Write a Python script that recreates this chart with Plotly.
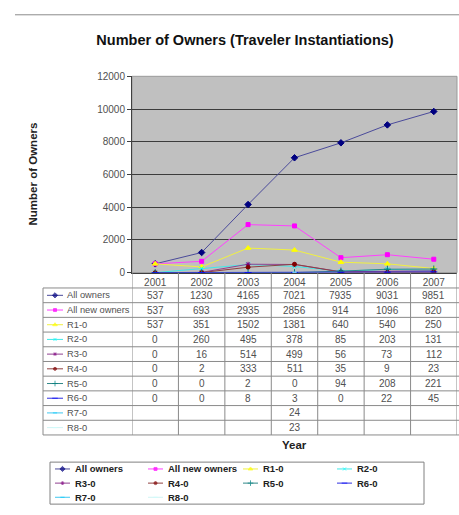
import plotly.graph_objects as go

W, H = 459, 515

years = ["2001", "2002", "2003", "2004", "2005", "2006", "2007"]
series_names = ["All owners", "All new owners", "R1-0", "R2-0", "R3-0",
                "R4-0", "R5-0", "R6-0", "R7-0", "R8-0"]
all_owners = [537, 1230, 4165, 7021, 7935, 9031, 9851]
all_new_owners = [537, 693, 2935, 2856, 914, 1096, 820]
r1 = [537, 351, 1502, 1381, 640, 540, 250]
r2 = [0, 260, 495, 378, 85, 203, 131]
r3 = [0, 16, 514, 499, 56, 73, 112]
r4 = [0, 2, 333, 511, 35, 9, 23]
r5 = [0, 0, 2, 0, 94, 208, 221]
r6 = [0, 0, 8, 3, 0, 22, 45]
r7 = [None, None, None, 24, None, None, None]
r8 = [None, None, None, 23, None, None, None]
values = [all_owners, all_new_owners, r1, r2, r3, r4, r5, r6, r7, r8]

colors = ["#000080", "#FF00FF", "#FFFF00", "#00FFFF", "#800080",
          "#800000", "#008080", "#0000FF", "#00CCFF", "#CCFFFF"]
line_colors = ["#4a4a9a", "#ff40ff", "#f0f040", "#40e8e8", "#904090",
               "#904040", "#308888", "#3030e0", "#40c8f0", "#d0f4f4"]
symbols = ["diamond", "square", "triangle-up", "x-thin", "asterisk",
           "circle", "cross-thin", "line-ew", "line-ew", "line-ew"]
msizes = [5, 4, 5, 4, 4, 4, 5, 5, 3, 3]

FONT = "Liberation Sans, Arial, sans-serif"

# plot area in pixels
PL, PR, PT, PB = 132, 457, 72, 273


def fx(x):
    return x / W


def fy(y):
    return 1 - y / H


fig = go.Figure()

for name, vals, c, lc, s, ms in zip(series_names, values, colors, line_colors, symbols, msizes):
    fig.add_trace(go.Scatter(
        x=years, y=vals, name=name, mode="lines+markers",
        line=dict(color=lc, width=1),
        marker=dict(color=c, symbol=s, size=ms,
                    line=dict(color=c, width=1)),
        showlegend=False, hoverinfo="x+y+name",
        xaxis="x", yaxis="y"))

# --- data table below the chart ---
ROW_TOP = 288.7
ROW_H = 15.05
TBL_L = 43
shapes = []
annotations = []
n_rows = len(series_names)
tbl_bottom = ROW_TOP + ROW_H * n_rows
grid_col = "#8a8a8a"

# plot area background and border
shapes.append(dict(type="rect", xref="paper", yref="paper",
                   x0=fx(PL), x1=fx(PR), y0=fy(PB), y1=fy(PT),
                   fillcolor="#C0C0C0",
                   line=dict(color="#9a9a9a", width=1), layer="below"))

# horizontal table lines
for k in range(n_rows + 1):
    y = ROW_TOP + ROW_H * k
    shapes.append(dict(type="line", xref="paper", yref="paper",
                       x0=fx(TBL_L), x1=fx(459), y0=fy(y), y1=fy(y),
                       line=dict(color=grid_col, width=1)))
# vertical lines at category boundaries
for k in range(len(years) + 1):
    shapes.append(dict(type="line", xref="x", yref="paper",
                       x0=k - 0.5, x1=k - 0.5, y0=fy(PB), y1=fy(tbl_bottom),
                       line=dict(color=grid_col, width=1)))
shapes.append(dict(type="line", xref="paper", yref="paper",
                   x0=fx(TBL_L), x1=fx(TBL_L), y0=fy(ROW_TOP), y1=fy(tbl_bottom),
                   line=dict(color=grid_col, width=1)))

for i, (name, vals, c, lc, s, ms) in enumerate(zip(series_names, values, colors, line_colors, symbols, msizes)):
    yc = ROW_TOP + ROW_H * (i + 0.5)
    annotations.append(dict(text=name, xref="paper", yref="paper",
                            x=fx(65), y=fy(yc), xanchor="left", yanchor="middle",
                            showarrow=False,
                            font=dict(family=FONT, size=9.3, color="#505050")))
    for j, v in enumerate(vals):
        if v is None:
            continue
        annotations.append(dict(text=str(v), xref="x", yref="paper",
                                x=j, y=fy(yc), xanchor="center", yanchor="middle",
                                showarrow=False,
                                font=dict(family=FONT, size=10, color="#505050")))
    # key in the table
    fig.add_trace(go.Scatter(
        x=[47, 55, 63], y=[yc, yc, yc], mode="lines+markers",
        line=dict(color=lc, width=1),
        marker=dict(color=c, symbol=s, size=[0, max(ms - 1, 3), 0],
                    line=dict(color=c, width=1)),
        showlegend=False, hoverinfo="skip", xaxis="x2", yaxis="y2"))

# --- manual legend box ---
LEG_L, LEG_R, LEG_T, LEG_B = 50, 424, 467, 510
shapes.append(dict(type="rect", xref="paper", yref="paper",
                   x0=fx(LEG_L), x1=fx(LEG_R), y0=fy(LEG_T), y1=fy(LEG_B),
                   line=dict(color="#808080", width=1)))
leg_cols = [55, 148, 243, 337]
leg_rows = [474, 488.5, 503]
for i, (name, c, lc, s, ms) in enumerate(zip(series_names, colors, line_colors, symbols, msizes)):
    cx = leg_cols[i % 4]
    cy = leg_rows[i // 4]
    fig.add_trace(go.Scatter(
        x=[cx, cx + 7.5, cx + 15], y=[cy, cy, cy], mode="lines+markers",
        line=dict(color=lc, width=1),
        marker=dict(color=c, symbol=s, size=[0, max(ms - 1, 3), 0],
                    line=dict(color=c, width=1)),
        showlegend=False, hoverinfo="skip", xaxis="x2", yaxis="y2"))
    annotations.append(dict(text="<b>" + name + "</b>", xref="paper", yref="paper",
                            x=fx(cx + 17.5), y=fy(cy), xanchor="left", yanchor="middle",
                            showarrow=False,
                            font=dict(family=FONT, size=9.5, color="#222222")))

# top separator line
shapes.append(dict(type="line", xref="paper", yref="paper",
                   x0=fx(15), x1=fx(459), y0=fy(9), y1=fy(9),
                   line=dict(color="#8c8c8c", width=1)))

# axis titles
annotations.append(dict(text="<b>Number of Owners</b>", xref="paper", yref="paper",
                        x=fx(33), y=fy((PT + PB) / 2), textangle=-90,
                        xanchor="center", yanchor="middle", showarrow=False,
                        font=dict(family=FONT, size=11.5, color="#222222")))
annotations.append(dict(text="<b>Year</b>", xref="paper", yref="paper",
                        x=fx((PL + PR) / 2), y=fy(449),
                        xanchor="center", yanchor="middle", showarrow=False,
                        font=dict(family=FONT, size=11.5, color="#222222")))

fig.update_layout(
    width=W, height=H,
    margin=dict(l=0, r=0, t=0, b=0),
    paper_bgcolor="white",
    plot_bgcolor="rgba(0,0,0,0)",
    title=dict(text="<b>Number of Owners (Traveler Instantiations)</b>",
               x=fx(245), y=fy(35), xanchor="center", yanchor="middle",
               xref="paper", yref="paper",
               font=dict(family=FONT, size=14.5, color="#111111")),
    xaxis=dict(domain=[fx(PL), fx(PR)], type="category", range=[-0.5, 6.5],
               showgrid=False, zeroline=False, showline=True,
               linecolor="#404040", linewidth=1, ticks="",
               tickfont=dict(family=FONT, size=10, color="#505050"),
               anchor="y"),
    yaxis=dict(domain=[fy(PB), fy(PT)], range=[0, 12000], dtick=2000,
               tickformat="d",
               showgrid=True, gridcolor="#3c3c3c", gridwidth=1,
               zeroline=False, showline=True, linecolor="#404040",
               ticks="outside", ticklen=4, tickcolor="#404040",
               tickfont=dict(family=FONT, size=10, color="#505050"),
               anchor="x"),
    xaxis2=dict(domain=[0, 1], range=[0, W], visible=False, anchor="y2"),
    yaxis2=dict(domain=[0, 1], range=[H, 0], visible=False, anchor="x2"),
    shapes=shapes,
    annotations=annotations,
    showlegend=False,
)

fig.write_html("out.html", config={"displayModeBar": False},
               post_script="document.body.style.margin='0';")
